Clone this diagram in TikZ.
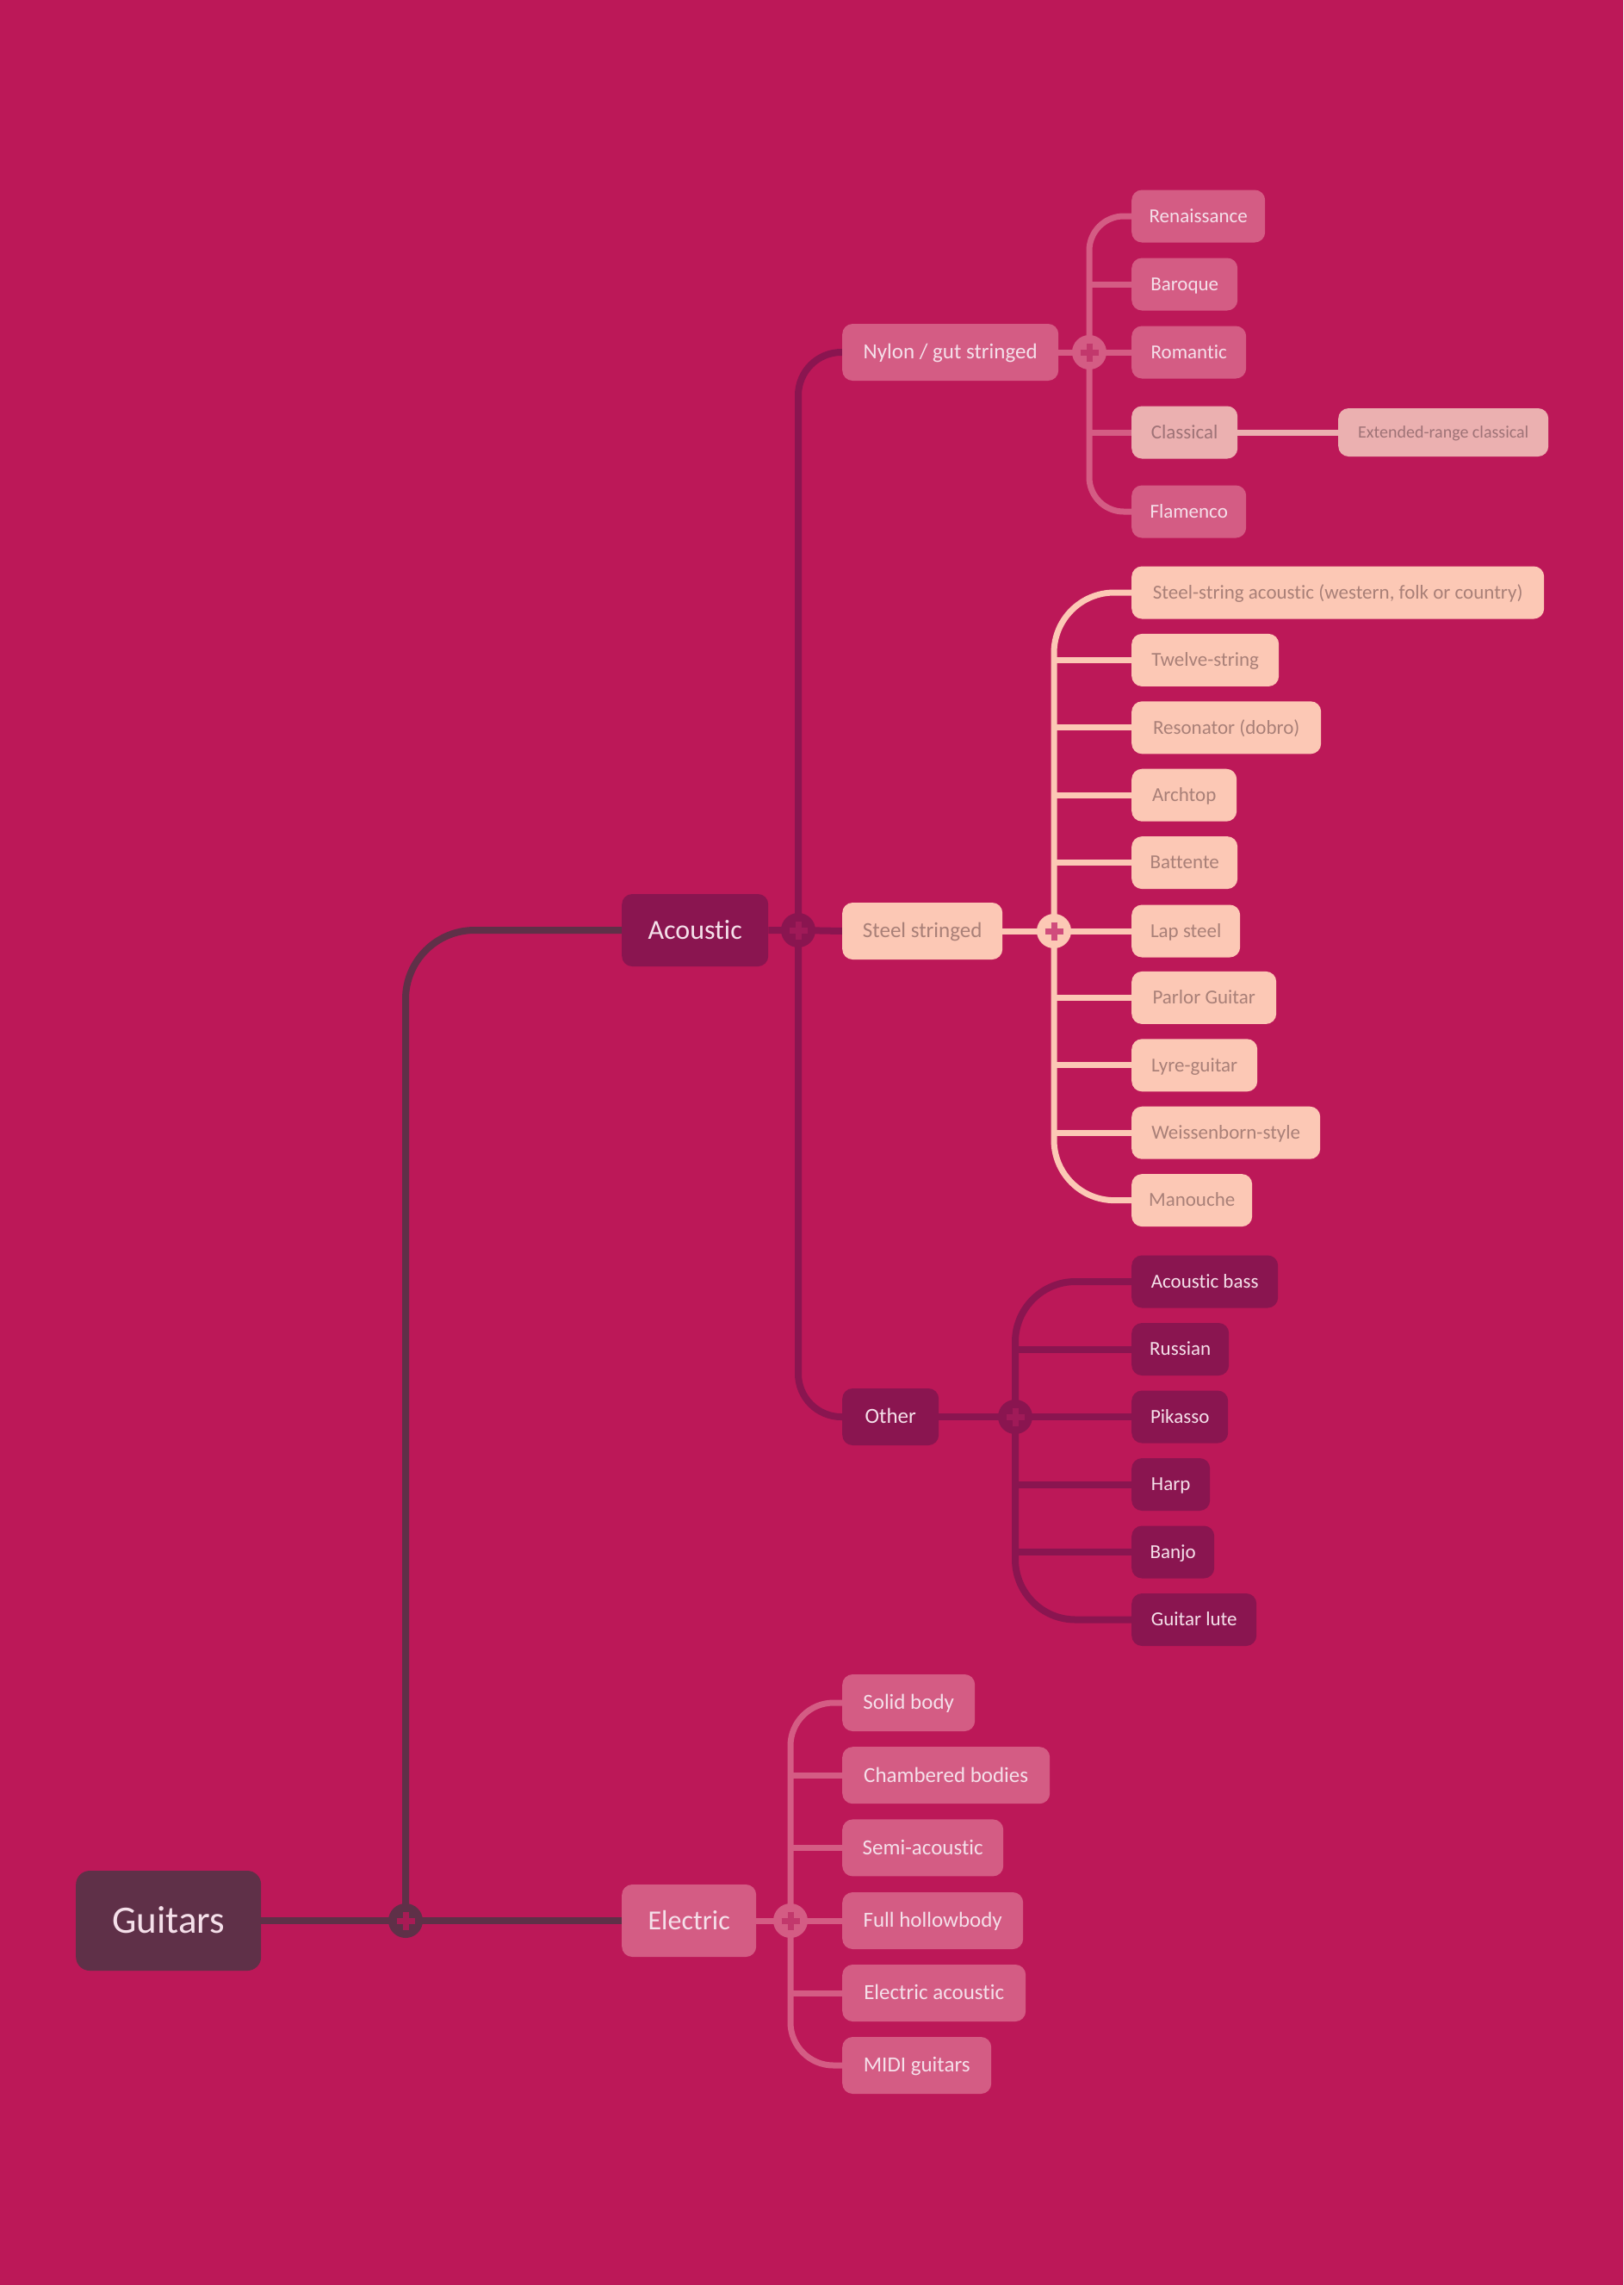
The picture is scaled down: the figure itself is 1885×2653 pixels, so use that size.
\documentclass[tikz,border=0pt]{standalone}
\usepackage{fontspec}
\setmainfont{Carlito}[Ligatures=NoCommon]
\usepackage{tikz}
\usetikzlibrary{positioning,calc}
\pgfdeclarelayer{bg}
\pgfsetlayers{bg,main}

\definecolor{backmag}{HTML}{BC1858}
\definecolor{plum}{HTML}{5F3048}
\definecolor{wine}{HTML}{8A1550}
\definecolor{rose}{HTML}{D45C84}
\definecolor{blush}{HTML}{EBB0B0}
\definecolor{peach}{HTML}{FCC8B5}
\definecolor{lighttext}{HTML}{F5E0EA}
\definecolor{peachtext}{HTML}{A98078}
\definecolor{blushtext}{HTML}{9F7377}
\definecolor{plusroot}{HTML}{A81B55}
\definecolor{pluswine}{HTML}{A01A58}
\definecolor{plusrose}{HTML}{C2386C}
\definecolor{pluspeach}{HTML}{D04C7C}

\tikzset{
  topic/.style={rounded corners=12, inner sep=0pt, text depth=0pt, anchor=west},
  wbox/.style={topic, fill=wine, text=lighttext},
  rbox/.style={topic, fill=rose, text=lighttext},
  pbox/.style={topic, fill=peach, text=peachtext},
  bbox/.style={topic, fill=blush, text=blushtext},
  huge/.style={font=\fontsize{45}{50}\selectfont, text height=28.4, minimum height=116},
  big/.style={font=\fontsize{32}{36}\selectfont, text height=20.2, minimum height=84},
  mid/.style={font=\fontsize{25}{30}\selectfont, text height=15.8, minimum height=66},
  leaf/.style={font=\fontsize{23}{27}\selectfont, text height=14.5, minimum height=61},
  small/.style={font=\fontsize{20}{24}\selectfont, text height=12.6, minimum height=56},
  junc/.style 2 args={circle, fill=#1, minimum size=40, inner sep=0pt,
    path picture={
      \draw[#2, line width=7pt] ($(path picture bounding box.center)+(-10.5,0)$) -- ++(21,0);
      \draw[#2, line width=7pt] ($(path picture bounding box.center)+(0,-10.5)$) -- ++(0,21);}},
  wire/.style={draw=#1, line width=7pt}
}

\begin{document}
\begin{tikzpicture}[x=1pt, y=-1pt]
\useasboundingbox (0,0) rectangle (1885,2653);

% root and first level
\node[topic, huge, fill=plum, text=lighttext, rounded corners=16, minimum width=215] (guitars) at (88,2230) {Guitars};
\node[junc={plum}{plusroot}] (jroot) at (471,2230) {};
\node[wbox, big, minimum width=170] (acoustic) at (722,1080) {Acoustic};
\node[rbox, big, minimum width=156] (electric) at (722,2230) {Electric};

% acoustic
\node[junc={wine}{pluswine}] (jac) at (927,1080) {};
\node[rbox, mid, minimum width=251] (nylon) at (978,409) {Nylon / gut stringed};
\node[pbox, mid, minimum width=186] (steel) at (978,1081) {Steel stringed};
\node[wbox, mid, minimum width=112] (other) at (978,1645) {Other};

% nylon / gut
\node[junc={rose}{plusrose}] (jny) at (1265,409) {};
\node[rbox, leaf, minimum width=155] (renaissance) at (1314,251) {Renaissance};
\node[rbox, leaf, minimum width=123] (baroque) at (1314,330) {Baroque};
\node[rbox, leaf, minimum width=133] (romantic) at (1314,409) {Romantic};
\node[bbox, leaf, minimum width=123] (classical) at (1314,502) {Classical};
\node[rbox, leaf, minimum width=133] (flamenco) at (1314,594) {Flamenco};
\node[bbox, small, minimum width=244] (extended) at (1554,502) {Extended-range classical};

% steel
\node[junc={peach}{pluspeach}] (jst) at (1224,1081) {};
\node[pbox, leaf, minimum width=479] (ssacoustic) at (1314,688) {Steel-string acoustic (western, folk or country)};
\node[pbox, leaf, minimum width=171] (twelve) at (1314,766.4) {Twelve-string};
\node[pbox, leaf, minimum width=220] (resonator) at (1314,844.8) {Resonator (dobro)};
\node[pbox, leaf, minimum width=122] (archtop) at (1314,923.2) {Archtop};
\node[pbox, leaf, minimum width=123] (battente) at (1314,1001.6) {Battente};
\node[pbox, leaf, minimum width=126] (lapsteel) at (1314,1081) {Lap steel};
\node[pbox, leaf, minimum width=168] (parlor) at (1314,1158.4) {Parlor Guitar};
\node[pbox, leaf, minimum width=146] (lyre) at (1314,1236.8) {Lyre-guitar};
\node[pbox, leaf, minimum width=219] (weissenborn) at (1314,1315.2) {Weissenborn-style};
\node[pbox, leaf, minimum width=140] (manouche) at (1314,1393.6) {Manouche};

% other
\node[junc={wine}{pluswine}] (jot) at (1179,1645) {};
\node[wbox, leaf, minimum width=170] (bass) at (1314,1488) {Acoustic bass};
\node[wbox, leaf, minimum width=113] (russian) at (1314,1566.5) {Russian};
\node[wbox, leaf, minimum width=112] (pikasso) at (1314,1645) {Pikasso};
\node[wbox, leaf, minimum width=91] (harp) at (1314,1723.5) {Harp};
\node[wbox, leaf, minimum width=96] (banjo) at (1314,1802) {Banjo};
\node[wbox, leaf, minimum width=145] (lute) at (1314,1880.5) {Guitar lute};

% electric
\node[junc={rose}{plusrose}] (jel) at (918,2230) {};
\node[rbox, mid, minimum width=154] (solid) at (978,1977) {Solid body};
\node[rbox, mid, minimum width=241] (chambered) at (978,2061.2) {Chambered bodies};
\node[rbox, mid, minimum width=187] (semi) at (978,2145.4) {Semi-acoustic};
\node[rbox, mid, minimum width=210] (hollow) at (978,2230) {Full hollowbody};
\node[rbox, mid, minimum width=213] (elacoustic) at (978,2314) {Electric acoustic};
\node[rbox, mid, minimum width=173] (midi) at (978,2398) {MIDI guitars};

\begin{pgfonlayer}{bg}
\fill[backmag] (0,0) rectangle (1885,2653);

\draw[wire=plum, line width=8pt] (guitars.east) -- (jroot.center) -- (electric.west);
\draw[wire=plum, line width=8pt, rounded corners=80] (jroot.center) |- (acoustic.west);

\draw[wire=wine, line width=8pt] (acoustic.east) -- (jac.center) -- (steel.west);
\draw[wire=wine, line width=8pt, rounded corners=50] (jac.center) |- (nylon.west);
\draw[wire=wine, line width=8pt, rounded corners=50] (jac.center) |- (other.west);

\draw[wire=rose] (nylon.east) -- (jny.center) -- (romantic.west);
\draw[wire=rose, rounded corners=40] (jny.center) |- (renaissance.west);
\draw[wire=rose, rounded corners=40] (jny.center) |- (flamenco.west);
\draw[wire=rose] (jny.center |- baroque.west) -- (baroque.west);
\draw[wire=rose] (jny.center |- classical.west) -- (classical.west);
\draw[wire=blush] (classical.east) -- (extended.west);

\draw[wire=peach] (steel.east) -- (jst.center) -- (lapsteel.west);
\draw[wire=peach, rounded corners=70] (jst.center) |- (ssacoustic.west);
\draw[wire=peach, rounded corners=70] (jst.center) |- (manouche.west);
\draw[wire=peach] (jst.center |- twelve.west) -- (twelve.west);
\draw[wire=peach] (jst.center |- resonator.west) -- (resonator.west);
\draw[wire=peach] (jst.center |- archtop.west) -- (archtop.west);
\draw[wire=peach] (jst.center |- battente.west) -- (battente.west);
\draw[wire=peach] (jst.center |- parlor.west) -- (parlor.west);
\draw[wire=peach] (jst.center |- lyre.west) -- (lyre.west);
\draw[wire=peach] (jst.center |- weissenborn.west) -- (weissenborn.west);

\draw[wire=wine, line width=8pt] (other.east) -- (jot.center) -- (pikasso.west);
\draw[wire=wine, line width=8pt, rounded corners=70] (jot.center) |- (bass.west);
\draw[wire=wine, line width=8pt, rounded corners=70] (jot.center) |- (lute.west);
\draw[wire=wine, line width=8pt] (jot.center |- russian.west) -- (russian.west);
\draw[wire=wine, line width=8pt] (jot.center |- harp.west) -- (harp.west);
\draw[wire=wine, line width=8pt] (jot.center |- banjo.west) -- (banjo.west);

\draw[wire=rose] (electric.east) -- (jel.center) -- (hollow.west);
\draw[wire=rose, rounded corners=50] (jel.center) |- (solid.west);
\draw[wire=rose, rounded corners=50] (jel.center) |- (midi.west);
\draw[wire=rose] (jel.center |- chambered.west) -- (chambered.west);
\draw[wire=rose] (jel.center |- semi.west) -- (semi.west);
\draw[wire=rose] (jel.center |- elacoustic.west) -- (elacoustic.west);
\end{pgfonlayer}
\end{tikzpicture}
\end{document}
